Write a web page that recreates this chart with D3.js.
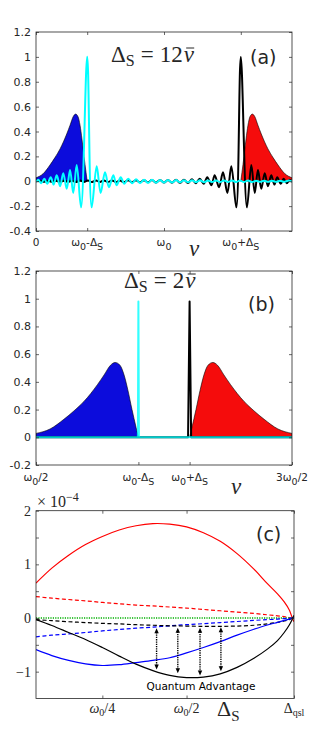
<!DOCTYPE html>
<html><head><meta charset="utf-8">
<script src="https://cdn.jsdelivr.net/npm/d3@7"></script>
<style>body{margin:0;background:#fff}svg{display:block}</style>
</head><body>
<script>
// ---------- Panel (a): x in units of omega0 ----------
const aBlueX = [0, 0.055, 0.109, 0.148, 0.188, 0.240, 0.266, 0.291, 0.309, 0.328, 0.344, 0.359, 0.375, 0.391, 0.400];
const aBlueY = [0.028, 0.06, 0.13, 0.19, 0.26, 0.38, 0.45, 0.52, 0.54, 0.52, 0.45, 0.34, 0.20, 0.07, 0];
const aRedX = [1.600, 1.609, 1.625, 1.641, 1.656, 1.672, 1.691, 1.709, 1.734, 1.760, 1.812, 1.852, 1.891, 1.945, 2.000];
const aRedY = [0, 0.07, 0.20, 0.34, 0.45, 0.52, 0.54, 0.52, 0.45, 0.38, 0.26, 0.19, 0.13, 0.06, 0.028];
const aCyanX = [0.000,0.018,0.041,0.065,0.088,0.115,0.138,0.162,0.188,0.213,0.240,0.266,0.291,0.318,0.352,0.400,
  0.435,0.474,0.505,0.539,0.570,0.604,0.630,0.662,0.690,0.721,0.752,0.781,0.813,0.844,0.875,0.906,0.938,0.969,
  1.000,1.031,1.063,1.094,1.125,1.156,1.188,1.219,1.250,1.281,1.313,1.344,1.375,1.406,1.438,1.469,1.500,1.531,
  1.563,1.594,1.625,1.656,1.688,1.719,1.750,1.781,1.813,1.844,1.875,1.906,1.938,1.969,2.000];
const aCyanY = [-0.006,0.013,-0.016,0.020,-0.020,0.032,-0.027,0.048,-0.040,0.065,-0.060,0.090,-0.094,0.130,-0.210,1.000,
  -0.210,0.120,-0.094,0.072,-0.048,0.048,-0.032,0.032,-0.020,0.020,-0.016,0.016,-0.014,0.013,-0.013,0.012,-0.012,0.011,
  -0.011,0.010,-0.010,0.010,-0.009,0.009,-0.009,0.008,-0.008,0.008,-0.008,0.007,-0.007,0.007,-0.007,0.007,-0.006,0.006,
  -0.006,0.006,-0.006,0.006,-0.006,0.005,-0.005,0.005,-0.005,0.005,-0.005,0.005,-0.005,0.005,0.000];
const aBlackX = [0.000,0.031,0.062,0.094,0.125,0.156,0.187,0.219,0.250,0.281,0.312,0.344,0.375,0.406,0.437,0.469,
  0.500,0.531,0.562,0.594,0.625,0.656,0.687,0.719,0.750,0.781,0.812,0.844,0.875,0.906,0.937,0.969,1.000,1.031,
  1.062,1.094,1.125,1.156,1.187,1.219,1.248,1.279,1.310,1.338,1.370,1.396,1.430,1.461,1.495,1.526,1.565,1.600,
  1.648,1.682,1.709,1.734,1.760,1.787,1.812,1.838,1.862,1.885,1.912,1.935,1.959,1.982,2.000];
const aBlackY = [0.000,0.005,-0.005,0.005,-0.005,0.005,-0.005,0.005,-0.005,0.005,-0.006,0.006,-0.006,0.006,-0.006,0.006,
  -0.006,0.007,-0.007,0.007,-0.007,0.007,-0.008,0.008,-0.008,0.008,-0.009,0.009,-0.009,0.010,-0.010,0.010,-0.011,0.011,
  -0.012,0.012,-0.013,0.013,-0.014,0.016,-0.016,0.020,-0.020,0.032,-0.032,0.048,-0.048,0.072,-0.094,0.120,-0.210,1.000,
  -0.210,0.130,-0.094,0.090,-0.060,0.065,-0.040,0.048,-0.027,0.032,-0.020,0.020,-0.016,0.013,-0.006];
const aTickVals = [0, 0.4, 1, 1.6];
const aTickLabels = ["0", "ω_0-Δ_S", "ω_0", "ω_0+Δ_S"];
const aYTicks = [-0.4, -0.2, 0, 0.2, 0.4, 0.6, 0.8, 1, 1.2];

// ---------- Panel (b) ----------
const bBlueX = [0.5, 0.555, 0.609, 0.648, 0.688, 0.740, 0.766, 0.791, 0.809, 0.828, 0.844, 0.859, 0.875, 0.891, 0.900];
const bBlueY = [0.028, 0.06, 0.13, 0.19, 0.26, 0.38, 0.45, 0.52, 0.54, 0.52, 0.45, 0.34, 0.20, 0.07, 0];
const bRedX = [1.100, 1.109, 1.125, 1.141, 1.156, 1.172, 1.191, 1.209, 1.234, 1.260, 1.312, 1.352, 1.391, 1.445, 1.500];
const bRedY = [0, 0.07, 0.20, 0.34, 0.45, 0.52, 0.54, 0.52, 0.45, 0.38, 0.26, 0.19, 0.13, 0.06, 0.028];
const bCyanX = [0.5, 0.898, 0.9, 0.902, 1.5];
const bCyanY = [0, 0, 0.98, 0, 0];
const bBlackX = [0.5, 1.094, 1.1, 1.106, 1.5];
const bBlackY = [0, 0, 0.98, 0, 0];
const bTickVals = [0.5, 0.9, 1.1, 1.5];
const bTickLabels = ["ω_0/2", "ω_0-Δ_S", "ω_0+Δ_S", "3ω_0/2"];
const bYTicks = [-0.2, 0, 0.2, 0.4, 0.6, 0.8, 1, 1.2];

// ---------- Panel (c): values in units of 1e-4 ----------
const cX = [0.053, 0.10, 0.15, 0.20, 0.25, 0.30, 0.35, 0.40, 0.45, 0.50, 0.55, 0.60, 0.65, 0.70, 0.74, 0.77, 0.79, 0.805, 0.814, 0.819];
const cRedSolid  = [0.65, 0.93, 1.17, 1.37, 1.52, 1.64, 1.72, 1.76, 1.75, 1.70, 1.59, 1.43, 1.20, 0.91, 0.64, 0.45, 0.30, 0.15, 0.0, -0.07];
const cRedDash   = [0.40, 0.37, 0.345, 0.32, 0.29, 0.265, 0.24, 0.225, 0.205, 0.185, 0.16, 0.135, 0.11, 0.085, 0.06, 0.04, 0.025, 0.01, 0, -0.005];
const cGreenDot  = [0, 0, 0, 0, 0, 0, 0, 0, 0, 0, 0, 0, 0, 0, 0, 0, 0, 0, 0, 0];
const cBlackDash = [-0.03, -0.05, -0.07, -0.085, -0.10, -0.11, -0.125, -0.135, -0.145, -0.15, -0.155, -0.155, -0.15, -0.135, -0.11, -0.08, -0.055, -0.03, -0.005, 0.005];
const cBlueDash  = [-0.35, -0.32, -0.295, -0.27, -0.24, -0.215, -0.19, -0.17, -0.145, -0.125, -0.105, -0.085, -0.065, -0.045, -0.03, -0.02, -0.01, -0.005, 0, 0.003];
const cBlueSolid = [-0.59, -0.70, -0.79, -0.855, -0.885, -0.87, -0.83, -0.79, -0.74, -0.65, -0.55, -0.44, -0.32, -0.21, -0.13, -0.08, -0.045, -0.02, -0.003, 0.005];
const cBlackSolid= [-0.03, -0.14, -0.27, -0.40, -0.55, -0.71, -0.86, -0.98, -1.07, -1.11, -1.10, -1.04, -0.92, -0.75, -0.58, -0.42, -0.27, -0.13, -0.02, 0.05];
const cArrowX = [0.411, 0.474, 0.540, 0.602];
const cArrowTop = [-0.19, -0.18, -0.18, -0.17];
const cArrowBottom = [-0.96, -1.03, -1.07, -0.99];
const cTickVals = [0.25, 0.5, 0.819];
const cTickLabels = ["ω_0/4", "ω_0/2", "Δ_{qsl}"];
const cYTicks = [-1, -0.5, 0, 0.5, 1, 1.5, 2];
const cYLabels = {"-1": "\u22121", "0": "0", "1": "1", "2": "2"};

// ---------- drawing ----------
const W = 311, H = 730;
const AX = "#262626";
const SANS = "'DejaVu Sans', sans-serif";
const SERIF = "'Liberation Serif', 'DejaVu Serif', serif";
const svg = d3.select("body").append("svg").attr("width", W).attr("height", H);

function rich(g, x, y, str, o) {
  const toks = [];
  for (let i = 0; i < str.length; i++) {
    let c = str[i];
    if (c === "_") {
      let s;
      if (str[i + 1] === "{") { const j = str.indexOf("}", i); s = str.slice(i + 2, j); i = j; }
      else { s = str[i + 1]; i++; }
      toks.push({t: s, sub: true});
    } else toks.push({t: c, sub: false});
  }
  const t = g.append("text").attr("x", x).attr("y", y)
    .attr("text-anchor", o.anchor || "middle").attr("font-family", o.family)
    .attr("fill", o.color || AX).attr("font-size", o.size);
  let cur = 0;
  toks.forEach(k => {
    const target = k.sub ? o.subDy : 0;
    const ts = t.append("tspan").text(k.t).attr("dy", target - cur).attr("font-size", k.sub ? o.subSize : o.size);
    if (o.italic && o.italic.includes(k.t[0])) ts.attr("font-style", "italic");
    cur = target;
  });
  return t;
}

// title "Δ_S = N ν̄" with a drawn macron over ν
function title(g, x, y, num) {
  const t = g.append("text").attr("x", x).attr("y", y).attr("font-family", SERIF).attr("font-size", 23).attr("fill", AX);
  t.append("tspan").text("Δ");
  t.append("tspan").attr("dy", 4).attr("font-size", 16).text("S");
  t.append("tspan").attr("dy", -4).attr("dx", 6).text("=");
  t.append("tspan").attr("dx", 6).text(num);
  const bb = t.node().getBBox();
  const nx = bb.x + bb.width + 1;
  const nu = g.append("text").attr("x", nx).attr("y", y).attr("font-family", SERIF).attr("font-size", 23)
    .attr("font-style", "italic").attr("fill", AX).text("ν");
  const nb = nu.node().getBBox();
  g.append("line").attr("x1", nb.x + 2.5).attr("x2", nb.x + nb.width - 0.5).attr("y1", y - 14).attr("y2", y - 14)
    .attr("stroke", AX).attr("stroke-width", 1);
}

function makePanel(id, L, R, T, B, xd, yd) {
  const x = d3.scaleLinear().domain(xd).range([L, R]);
  const y = d3.scaleLinear().domain(yd).range([B, T]);
  const g = svg.append("g");
  svg.append("clipPath").attr("id", id).append("rect").attr("x", L).attr("y", T).attr("width", R - L).attr("height", B - T);
  const plot = g.append("g").attr("clip-path", `url(#${id})`);
  return {x, y, g, plot, L, R, T, B};
}

function frame(p, xt, yt, yfmt, yfont) {
  const sty = s => s.call(q => q.select(".domain").remove()).selectAll("line").attr("stroke", AX).attr("stroke-width", 0.7);
  p.g.append("g").attr("transform", `translate(${p.L},0)`)
    .call(d3.axisLeft(p.y).tickValues(yt).tickSize(-3).tickPadding(5).tickFormat(yfmt))
    .call(sty).call(s => s.selectAll("text").attr("font-family", yfont.family).attr("font-size", yfont.size).attr("fill", AX));
  p.g.append("g").attr("transform", `translate(${p.R},0)`)
    .call(d3.axisRight(p.y).tickValues(yt).tickSize(-3).tickFormat("")).call(sty);
  p.g.append("g").attr("transform", `translate(0,${p.B})`)
    .call(d3.axisBottom(p.x).tickValues(xt).tickSize(-3).tickFormat("")).call(sty);
  p.g.append("g").attr("transform", `translate(0,${p.T})`)
    .call(d3.axisTop(p.x).tickValues(xt).tickSize(-3).tickFormat("")).call(sty);
  p.g.append("rect").attr("x", p.L).attr("y", p.T).attr("width", p.R - p.L).attr("height", p.B - p.T)
    .attr("fill", "none").attr("stroke", AX).attr("stroke-width", 0.8);
}

function hump(p, xs, ys, color) {
  const d = xs.map((v, i) => [v, ys[i]]);
  p.plot.append("path").datum(d)
    .attr("d", d3.area().x(q => p.x(q[0])).y0(p.y(0)).y1(q => p.y(q[1])).curve(d3.curveMonotoneX))
    .attr("fill", color).attr("stroke", "#000").attr("stroke-width", 0.6);
}
function line(p, xs, ys, color, w, curve, dash, op) {
  const d = xs.map((v, i) => [v, ys[i]]);
  const pa = p.plot.append("path").datum(d)
    .attr("d", d3.line().x(q => p.x(q[0])).y(q => p.y(q[1])).curve(curve || d3.curveLinear))
    .attr("fill", "none").attr("stroke", color).attr("stroke-width", w).attr("stroke-linejoin", "round");
  if (dash) pa.attr("stroke-dasharray", dash);
  if (op) pa.attr("stroke-opacity", op);
}
function nuLabel(g, x, y) {
  g.append("text").attr("x", x).attr("y", y).attr("text-anchor", "middle").attr("font-family", SERIF)
    .attr("font-style", "italic").attr("font-size", 23).attr("fill", AX).text("ν");
}

// ----- Panel (a) -----
const A = makePanel("ca", 36, 292, 32, 231, [0, 2], [-0.4, 1.2]);
hump(A, aBlueX, aBlueY, "#0c0cdc");
hump(A, aRedX, aRedY, "#f50c0c");
line(A, aBlackX, aBlackY, "#000", 2, d3.curveCatmullRom.alpha(0.5));
line(A, aCyanX, aCyanY, "#00ffff", 2, d3.curveCatmullRom.alpha(0.5));
frame(A, aTickVals, aYTicks, d => String(d), {family: SANS, size: 11});
aTickVals.forEach((v, i) => rich(A.g, A.x(v), 246, aTickLabels[i], {family: SANS, size: 10.5, subSize: 9.5, subDy: 4}));
nuLabel(A.g, 194, 256);
title(A.g, 111, 62, "12");
A.g.append("text").attr("x", 250).attr("y", 64).attr("font-family", SANS).attr("font-size", 19).attr("fill", AX).text("(a)");

// ----- Panel (b) -----
const Bp = makePanel("cb", 36, 292, 271, 465, [0.5, 1.5], [-0.2, 1.2]);
hump(Bp, bBlueX, bBlueY, "#0c0cdc");
hump(Bp, bRedX, bRedY, "#f50c0c");
line(Bp, bBlackX, bBlackY, "#000", 2);
line(Bp, bCyanX, bCyanY, "#00ffff", 2, null, null, 0.8);
frame(Bp, bTickVals, bYTicks, d => String(d), {family: SANS, size: 11});
bTickVals.forEach((v, i) => rich(Bp.g, Bp.x(v), 481, bTickLabels[i], {family: SANS, size: 10.5, subSize: 9.5, subDy: 4}));
nuLabel(Bp.g, 236, 494);
title(Bp.g, 124, 288, "2");
Bp.g.append("text").attr("x", 248).attr("y", 311).attr("font-family", SANS).attr("font-size", 19).attr("fill", AX).text("(b)");

// ----- Panel (c) -----
const C = makePanel("cc", 36, 294, 510.7, 698.5, [0.053, 0.819], [-1.5, 2]);
line(C, cX, cRedSolid, "#ff0000", 1.2, d3.curveCatmullRom);
line(C, cX, cRedDash, "#ff0000", 1.2, d3.curveCatmullRom, "4,2.5");
line(C, cX, cGreenDot, "#00b000", 1.3, null, "1.2,1.2");
line(C, cX, cBlueDash, "#0000ff", 1.2, d3.curveCatmullRom, "4,2.5");
line(C, cX, cBlackDash, "#000", 1.2, d3.curveCatmullRom, "4,2.5");
line(C, cX, cBlueSolid, "#0000ff", 1.2, d3.curveCatmullRom);
line(C, cX, cBlackSolid, "#000", 1.2, d3.curveCatmullRom);
cArrowX.forEach((v, i) => {
  const xx = C.x(v), yt = C.y(cArrowTop[i]), yb = C.y(cArrowBottom[i]);
  C.plot.append("line").attr("x1", xx).attr("x2", xx).attr("y1", yt + 4).attr("y2", yb - 4)
    .attr("stroke", "#000").attr("stroke-width", 1.4).attr("stroke-dasharray", "1.3,1");
  C.plot.append("path").attr("d", `M${xx},${yt}L${xx - 2.2},${yt + 5}L${xx + 2.2},${yt + 5}Z`).attr("fill", "#000");
  C.plot.append("path").attr("d", `M${xx},${yb}L${xx - 2.2},${yb - 5}L${xx + 2.2},${yb - 5}Z`).attr("fill", "#000");
});
frame(C, cTickVals, cYTicks, d => cYLabels[String(d)] || "", {family: SERIF, size: 14});
C.g.append("text").attr("x", 201).attr("y", 690).attr("text-anchor", "middle").attr("font-family", SANS)
  .attr("font-size", 10.5).attr("fill", "#000").text("Quantum Advantage");
cTickVals.forEach((v, i) => rich(C.g, C.x(v), 713, cTickLabels[i], {family: SERIF, size: 14, subSize: 10, subDy: 3, italic: "ω"}));
rich(C.g, 217, 716, "Δ_S", {family: SERIF, size: 22, subSize: 15, subDy: 5, anchor: "start"});
const tx = C.g.append("text").attr("x", 37).attr("y", 507).attr("font-family", SERIF).attr("font-size", 16).attr("fill", AX);
tx.append("tspan").text("× 10");
tx.append("tspan").attr("dy", -6).attr("font-size", 12).text("\u22124");
C.g.append("text").attr("x", 256).attr("y", 541).attr("font-family", SANS).attr("font-size", 19).attr("fill", AX).text("(c)");
</script>
</body></html>
